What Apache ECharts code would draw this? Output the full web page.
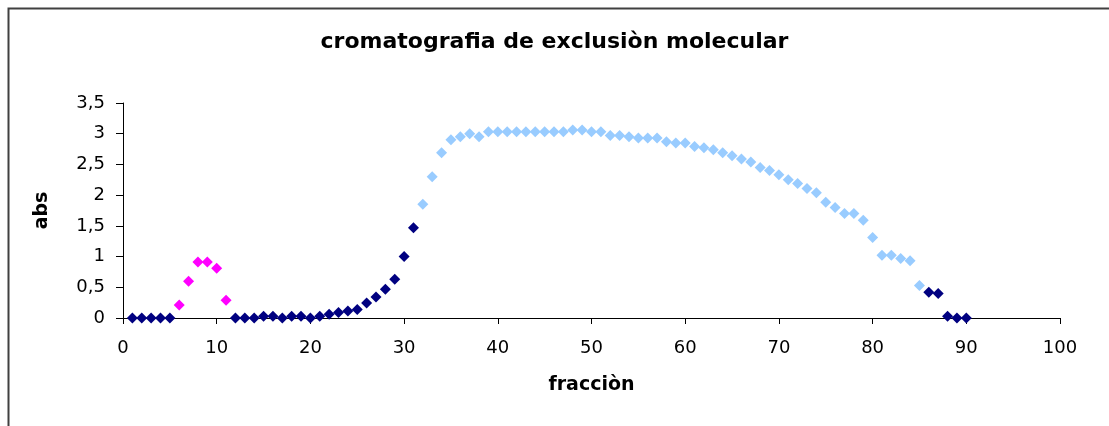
<!DOCTYPE html>
<html>
<head>
<meta charset="utf-8">
<script src="https://cdn.jsdelivr.net/npm/echarts@6/dist/echarts.min.js"></script>
<style>
  html, body { margin: 0; padding: 0; background: #fff; }
  #chart { width: 1109px; height: 426px; }
</style>
</head>
<body>
<div id="chart"></div>
<script>
// fracciones y absorbancias
var fraccionOscuro = [1, 2, 3, 4, 5, 12, 13, 14, 15, 16, 17, 18, 19, 20, 21, 22, 23, 24, 25, 26, 27, 28, 29, 30, 31, 86, 87, 88, 89, 90];
var absOscuro = [0, 0, 0, 0, 0, 0, 0, 0, 0.03, 0.03, 0, 0.03, 0.03, 0, 0.03, 0.06, 0.09, 0.115, 0.14, 0.245, 0.34, 0.47, 0.63, 1.0, 1.47, 0.42, 0.40, 0.03, 0, 0];

var fraccionRosa = [6, 7, 8, 9, 10, 11];
var absRosa = [0.21, 0.60, 0.91, 0.91, 0.81, 0.29];

var fraccionClaro = [32, 33, 34, 35, 36, 37, 38, 39, 40, 41, 42, 43, 44, 45, 46, 47, 48, 49, 50,
  51, 52, 53, 54, 55, 56, 57, 58, 59, 60, 61, 62, 63, 64, 65, 66, 67, 68, 69, 70,
  71, 72, 73, 74, 75, 76, 77, 78, 79, 80, 81, 82, 83, 84, 85];
var absClaro = [1.85, 2.30, 2.69, 2.90, 2.95, 3.0, 2.95, 3.03, 3.03, 3.03, 3.03, 3.03, 3.03, 3.03, 3.03, 3.03, 3.06, 3.06, 3.03,
  3.03, 2.97, 2.97, 2.95, 2.93, 2.93, 2.93, 2.87, 2.85, 2.85, 2.79, 2.77, 2.74, 2.69, 2.64, 2.59, 2.54, 2.45, 2.40, 2.33,
  2.25, 2.19, 2.11, 2.04, 1.885, 1.80, 1.70, 1.70, 1.59, 1.31, 1.02, 1.02, 0.97, 0.93, 0.53];

function pares(xs, ys) {
  var out = [];
  for (var i = 0; i < xs.length; i++) out.push([xs[i], ys[i]]);
  return out;
}

var fuente = 'DejaVu Sans';
var chart = echarts.init(document.getElementById('chart'));

var option = {
  animation: false,
  backgroundColor: '#fff',
  textStyle: { fontFamily: fuente },
  title: {
    text: 'cromatografia de exclusiòn molecular',
    left: 'center',
    top: 26,
    textStyle: { fontFamily: fuente, fontSize: 22, fontWeight: 'bold', color: '#000' }
  },
  graphic: [{
    type: 'rect',
    left: 6, top: 6,
    shape: { width: 1200, height: 500 },
    style: { fill: 'none', stroke: '#404040', lineWidth: 2 },
    silent: true
  }],
  grid: {
    left: 123,
    right: 49,
    top: 103,
    bottom: 108
  },
  xAxis: {
    type: 'value',
    min: 0, max: 100, interval: 10,
    name: 'fracciòn',
    nameLocation: 'middle',
    nameGap: 58,
    nameTextStyle: { fontFamily: fuente, fontSize: 19, fontWeight: 'bold', color: '#000' },
    axisLine: { lineStyle: { color: '#000', width: 1 } },
    axisTick: { length: 6, lineStyle: { color: '#000' } },
    axisLabel: { color: '#000', fontSize: 18, margin: 21 },
    splitLine: { show: false }
  },
  yAxis: {
    type: 'value',
    min: 0, max: 3.5, interval: 0.5,
    name: 'abs',
    nameLocation: 'middle',
    nameGap: 71,
    nameRotate: 90,
    nameTextStyle: { fontFamily: fuente, fontSize: 19, fontWeight: 'bold', color: '#000' },
    axisLine: { show: true, lineStyle: { color: '#000', width: 1 } },
    axisTick: { show: true, length: 7, lineStyle: { color: '#000' } },
    axisLabel: {
      color: '#000', fontSize: 18, margin: 18,
      formatter: function (v) { return String(v).replace('.', ','); }
    },
    splitLine: { show: false }
  },
  series: [{
    name: 'claro',
    type: 'scatter',
    symbol: 'diamond',
    symbolSize: 11,
    itemStyle: { color: '#99CCFF', opacity: 1 },
    data: pares(fraccionClaro, absClaro)
  }, {
    name: 'rosa',
    type: 'scatter',
    symbol: 'diamond',
    symbolSize: 11,
    itemStyle: { color: '#FF00FF', opacity: 1 },
    data: pares(fraccionRosa, absRosa)
  }, {
    name: 'oscuro',
    type: 'scatter',
    symbol: 'diamond',
    symbolSize: 11,
    itemStyle: { color: '#000080', opacity: 1 },
    data: pares(fraccionOscuro, absOscuro)
  }]
};

chart.setOption(option);
</script>
</body>
</html>
